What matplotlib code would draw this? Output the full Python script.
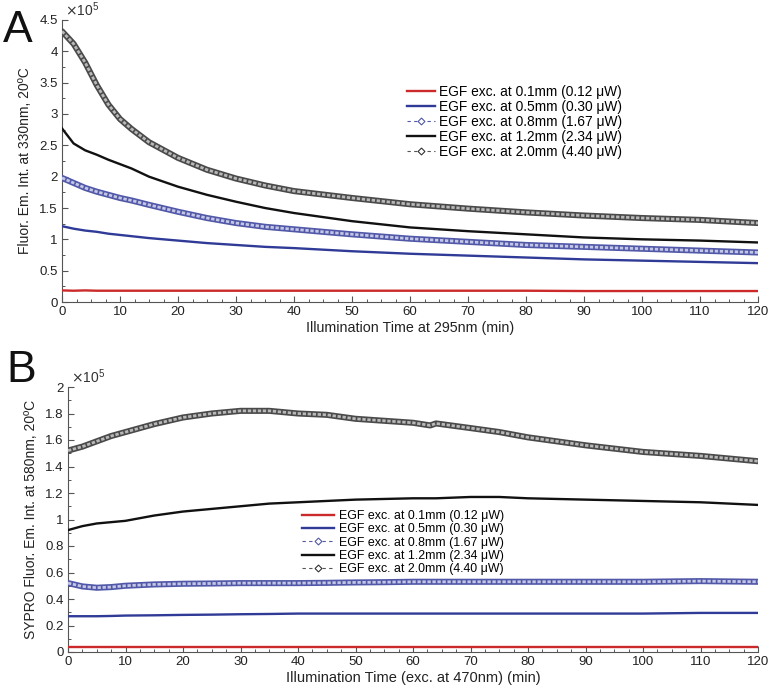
import matplotlib
matplotlib.use("Agg")
import matplotlib.pyplot as plt
from matplotlib.ticker import MultipleLocator, FuncFormatter
from matplotlib.lines import Line2D

plt.rcParams['font.family'] = ['Liberation Sans', 'DejaVu Sans']

# ---------------- data (values in units of 1e5) ----------------
labels = ["EGF exc. at 0.1mm (0.12 \u03bcW)", "EGF exc. at 0.5mm (0.30 \u03bcW)",
          "EGF exc. at 0.8mm (1.67 \u03bcW)", "EGF exc. at 1.2mm (2.34 \u03bcW)",
          "EGF exc. at 2.0mm (4.40 \u03bcW)"]

# Panel A
tA = [0, 2, 4, 6, 8, 10, 12, 15, 20, 25, 30, 35, 40, 50, 60, 70, 80, 90, 100, 110, 120]
A_red = [0.185, 0.18, 0.185, 0.18, 0.18, 0.18, 0.18, 0.18, 0.18, 0.18, 0.18, 0.18, 0.18,
         0.18, 0.18, 0.18, 0.18, 0.175, 0.175, 0.175, 0.175]
A_blue = [1.21, 1.17, 1.14, 1.12, 1.09, 1.07, 1.05, 1.02, 0.98, 0.94, 0.91, 0.88, 0.86,
          0.81, 0.77, 0.74, 0.71, 0.68, 0.66, 0.64, 0.62]
A_blue_d = [1.98, 1.90, 1.82, 1.76, 1.71, 1.66, 1.62, 1.55, 1.44, 1.34, 1.26, 1.20, 1.16,
            1.08, 1.01, 0.96, 0.91, 0.88, 0.85, 0.82, 0.79]
A_black = [2.77, 2.53, 2.42, 2.35, 2.27, 2.20, 2.13, 2.00, 1.84, 1.71, 1.60, 1.50, 1.42,
           1.29, 1.19, 1.13, 1.08, 1.03, 1.00, 0.98, 0.95]
A_black_d = [4.32, 4.12, 3.82, 3.46, 3.15, 2.92, 2.76, 2.55, 2.30, 2.11, 1.97, 1.86, 1.77,
             1.66, 1.56, 1.49, 1.43, 1.38, 1.34, 1.31, 1.26]

# Panel B
tB = [0, 2.5, 5, 7.5, 10, 15, 20, 25, 30, 35, 40, 45, 50, 55, 60, 63, 64, 70, 75, 80, 90, 100, 110, 120]
B_red = [0.04] * len(tB)
B_blue = [0.27, 0.27, 0.27, 0.272, 0.275, 0.277, 0.28, 0.282, 0.285, 0.287, 0.29, 0.29, 0.29,
          0.29, 0.29, 0.29, 0.29, 0.29, 0.29, 0.29, 0.29, 0.29, 0.295, 0.295]
B_blue_d = [0.52, 0.495, 0.485, 0.49, 0.50, 0.51, 0.515, 0.517, 0.52, 0.52, 0.52, 0.522, 0.525,
            0.527, 0.53, 0.53, 0.53, 0.53, 0.53, 0.53, 0.53, 0.53, 0.535, 0.53]
B_black = [0.92, 0.95, 0.97, 0.98, 0.99, 1.03, 1.06, 1.08, 1.10, 1.12, 1.13, 1.14, 1.15,
           1.155, 1.16, 1.16, 1.16, 1.17, 1.17, 1.16, 1.15, 1.14, 1.13, 1.11]
B_black_d = [1.52, 1.55, 1.59, 1.63, 1.66, 1.72, 1.77, 1.80, 1.82, 1.82, 1.80, 1.79, 1.76,
             1.745, 1.73, 1.71, 1.725, 1.69, 1.66, 1.62, 1.56, 1.51, 1.48, 1.44]

RED = '#cc2a2a'
BLUE = '#2f3b96'
BLACK = '#111111'
BLUE_EDGE = '#5158a8'
BLUE_FILL = '#c4c6e6'
GRAY_EDGE = '#4a4a4a'
GRAY_FILL = '#b8b8b8'

fig = plt.figure(figsize=(7.75, 6.91), dpi=100)
axA = fig.add_axes([62/775, 1-302/691, (758-62)/775, (302-20)/691])
axB = fig.add_axes([68/775, 1-652/691, (758-68)/775, (652-387)/691])


def band(ax, t, y, edge, fill):
    ax.plot(t, y, color=edge, lw=4.4, solid_capstyle='round', zorder=3)
    ax.plot(t, y, color=fill, lw=2.0, solid_capstyle='round', zorder=3.1,
            dashes=(1.2, 0.6))


def draw(ax, t, red, blue, blue_d, black, black_d):
    ax.plot(t, red, color=RED, lw=1.7, zorder=4)
    ax.plot(t, blue, color=BLUE, lw=1.7, zorder=4)
    band(ax, t, blue_d, BLUE_EDGE, BLUE_FILL)
    ax.plot(t, black, color=BLACK, lw=1.7, zorder=4)
    band(ax, t, black_d, GRAY_EDGE, GRAY_FILL)


def style(ax, ymax, ymaj, ymin):
    ax.set_xlim(0, 120)
    ax.set_ylim(0, ymax)
    for s in ['top', 'right']:
        ax.spines[s].set_visible(False)
    for s in ['left', 'bottom']:
        ax.spines[s].set_color('#555555')
        ax.spines[s].set_linewidth(0.8)
    ax.xaxis.set_major_locator(MultipleLocator(10))
    ax.xaxis.set_minor_locator(MultipleLocator(2.5))
    ax.yaxis.set_major_locator(MultipleLocator(ymaj))
    ax.yaxis.set_minor_locator(MultipleLocator(ymin))
    fmt = FuncFormatter(lambda v, p: '%g' % round(v, 3))
    ax.xaxis.set_major_formatter(fmt)
    ax.yaxis.set_major_formatter(fmt)
    ax.tick_params(which='both', direction='in', color='#555555', labelsize=9.5,
                   labelcolor='#222222', pad=3)
    ax.tick_params(which='major', length=4.5, width=0.8)
    ax.tick_params(which='minor', length=2.5, width=0.7)
    ax.text(0.004, 1.005, r'$\times\mathregular{10^5}$', transform=ax.transAxes,
            fontsize=10, color='#333333', ha='left', va='bottom')


def legend_handles():
    return [
        Line2D([], [], color=RED, lw=1.7),
        Line2D([], [], color=BLUE, lw=1.7),
        Line2D([], [], color=BLUE_EDGE, lw=0.8, ls=(0, (3, 3)), marker='D', markersize=3.5,
               markerfacecolor='white', markeredgecolor=BLUE_EDGE, markeredgewidth=0.8),
        Line2D([], [], color=BLACK, lw=1.7),
        Line2D([], [], color='#555555', lw=0.8, ls=(0, (3, 3)), marker='D', markersize=3.5,
               markerfacecolor='white', markeredgecolor='#333333', markeredgewidth=0.8),
    ]


draw(axA, tA, A_red, A_blue, A_blue_d, A_black, A_black_d)
style(axA, 4.5, 0.5, 0.25)
axA.set_xlabel('Illumination Time at 295nm (min)', fontsize=10.3, labelpad=2, color='#222222')
axA.set_ylabel('Fluor. Em. Int. at 330nm, 20\u00baC', fontsize=10, labelpad=5, color='#222222')
legA = axA.legend(legend_handles(), labels, loc='upper left', bbox_to_anchor=(0.495, 0.77),
                  frameon=False, fontsize=9.9, handlelength=2.1, handletextpad=0.25,
                  labelspacing=0.07, borderpad=0, borderaxespad=0)

draw(axB, tB, B_red, B_blue, B_blue_d, B_black, B_black_d)
style(axB, 2.0, 0.2, 0.1)
axB.set_xlabel('Illumination Time (exc. at 470nm) (min)', fontsize=10.5, labelpad=2, color='#222222')
axB.set_ylabel('SYPRO Fluor. Em. Int. at 580nm, 20\u00baC', fontsize=10, labelpad=5, color='#222222')
legB = axB.legend(legend_handles(), labels, loc='upper left', bbox_to_anchor=(0.339, 0.535),
                  frameon=False, fontsize=8.9, handlelength=2.6, handletextpad=0.4,
                  labelspacing=0.1, borderpad=0, borderaxespad=0)

fig.text(3/775, 1-42/691, 'A', fontsize=32, ha='left', va='baseline', color='#111111')
fig.text(6/775, 1-382/691, 'B', fontsize=32, ha='left', va='baseline', color='#111111')

fig.savefig('out.png', dpi=100)
